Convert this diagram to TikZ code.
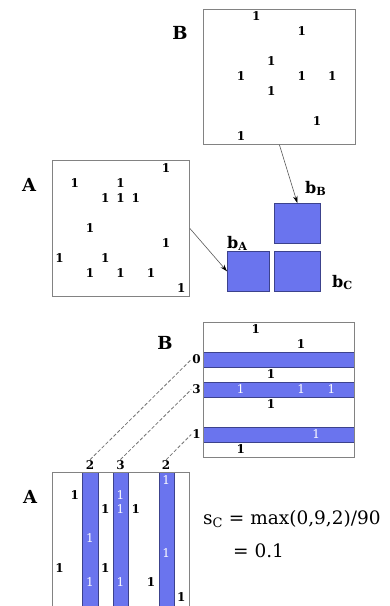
\documentclass[tikz,border=0pt]{standalone}
\usepackage{fontspec}
\setmainfont{DejaVu Serif}
\usetikzlibrary{arrows.meta}
\definecolor{blk}{RGB}{106,116,238}
\definecolor{blkedge}{RGB}{60,66,140}
\definecolor{boxgray}{RGB}{130,130,130}
\begin{document}
\begin{tikzpicture}[x=1pt,y=-1pt,
 mat/.style={draw=boxgray, line width=0.9pt, inner sep=0, anchor=north west},
 one/.style={font=\fontsize{12}{14}\selectfont\bfseries, inner sep=0},
 onew/.style={font=\fontsize{12}{14}\selectfont, text=white, inner sep=0},
 big/.style={font=\fontsize{18}{21}\selectfont\bfseries, inner sep=0},
 blab/.style={font=\fontsize{16}{19}\selectfont\bfseries, inner sep=0, anchor=base west},
 cnt/.style={font=\fontsize{12}{14}\selectfont\bfseries, inner sep=1pt},
 blockbox/.style={fill=blk, draw=blkedge, line width=0.6pt, minimum height=40pt, inner sep=0, anchor=north west},
 band/.style={fill=blk, draw=blkedge, line width=0.6pt, inner sep=0, anchor=north west},
 arr/.style={draw=black!65, line width=0.6pt, -{Stealth[length=7pt,width=4.5pt,black]}},
 dsh/.style={draw=black!55, line width=0.8pt, dash pattern=on 3.5pt off 2pt},
 formula/.style={font=\fontsize{18.5}{21}\selectfont, inner sep=0, anchor=base west}]
\useasboundingbox (0,0) rectangle (389,606);

% ---------- top B ----------
\node[mat, minimum width=152pt, minimum height=135pt] (topB) at (203,9) {};
\foreach \r/\c [count=\i] in {0/3,1/6,3/4,4/2,4/6,4/8,5/4,7/7,8/2}
  \node[one] (tb\i) at ({203+15.2*(\c+0.5)},{9+15*(\r+0.5)}) {1};
\node[big] (labTB) at (180,33) {B};

% ---------- top A ----------
\node[mat, minimum width=137pt, minimum height=136pt] (topA) at (52,160) {};
\foreach \r/\c [count=\i] in {0/7,1/1,1/4,2/3,2/4,2/5,4/2,5/7,6/0,6/3,7/2,7/4,7/6,8/8}
  \node[one] (ta\i) at ({52+15.22*(\c+0.5)},{160+15.11*(\r+0.5)}) {1};
\node[big] (labTA) at (29,185) {A};

% ---------- blocks ----------
\node[blockbox, minimum width=46pt] (bB) at (274,203) {};
\node[blockbox, minimum width=42pt] (bA) at (227,251) {};
\node[blockbox, minimum width=46pt] (bC) at (274,251) {};
\node[blab] (lbB) at (305,193) {b\textsubscript{B}};
\node[blab] (lbA) at (227,248) {b\textsubscript{A}};
\node[blab] (lbC) at (332,287) {b\textsubscript{C}};
\draw[arr] (topA.east) -- (bA.west);
\draw[arr] (topB.south) -- (bB.north);

% ---------- bottom B ----------
\foreach \r in {2,4,7}
  \node[band, minimum width=151pt, minimum height=15pt] (brow\r) at (203,{322+15*\r}) {};
\node[mat, minimum width=151pt, minimum height=135pt] (botB) at (203,322) {};
\foreach \r/\c [count=\i] in {0/3,1/6,3/4,5/4,8/2}
  \node[one] (bb\i) at ({203+15.1*(\c+0.5)},{322+15*(\r+0.5)}) {1};
\foreach \r/\c [count=\i] in {4/2,4/6,4/8,7/7}
  \node[onew] (bw\i) at ({203+15.1*(\c+0.5)},{322+15*(\r+0.5)}) {1};
\node[cnt, anchor=east] (rl0) at (202,359.5) {0};
\node[cnt, anchor=east] (rl3) at (202,389.5) {3};
\node[cnt, anchor=east] (rl1) at (202,434.5) {1};
\node[big] (labBB) at (165,343) {B};

% ---------- bottom A ----------
\foreach \c in {2,4,7}
  \node[band, minimum width=15.22pt, minimum height=140pt] (acol\c) at ({52+15.22*\c},472) {};
\node[mat, minimum width=137pt, minimum height=136pt] (botA) at (52,472) {};
\foreach \r/\c [count=\i] in {1/1,2/3,2/5,6/0,6/3,7/6,8/8}
  \node[one] (ab\i) at ({52+15.22*(\c+0.5)},{480+14.6*\r}) {1};
\foreach \r/\c [count=\i] in {4/2,7/2,1/4,2/4,7/4,0/7,5/7}
  \node[onew] (aw\i) at ({52+15.22*(\c+0.5)},{480+14.6*\r}) {1};
\node[cnt, anchor=south] (cl2) at ({52+15.22*2.5},471) {2};
\node[cnt, anchor=south] (cl4) at ({52+15.22*4.5},471) {3};
\node[cnt, anchor=south] (cl7) at ({52+15.22*7.5},471) {2};
\node[big] (labBA) at (30,497) {A};

\draw[dsh] (cl2.north) -- (rl0.west);
\draw[dsh] (cl4.north) -- (rl3.west);
\draw[dsh] (cl7.north) -- (rl1.west);

% ---------- formula ----------
\node[formula] (f1) at (203,524) {s\textsubscript{C} = max(0,9,2)/90};
\node[formula] (f2) at (233,557) {= 0.1};
\end{tikzpicture}
\end{document}
